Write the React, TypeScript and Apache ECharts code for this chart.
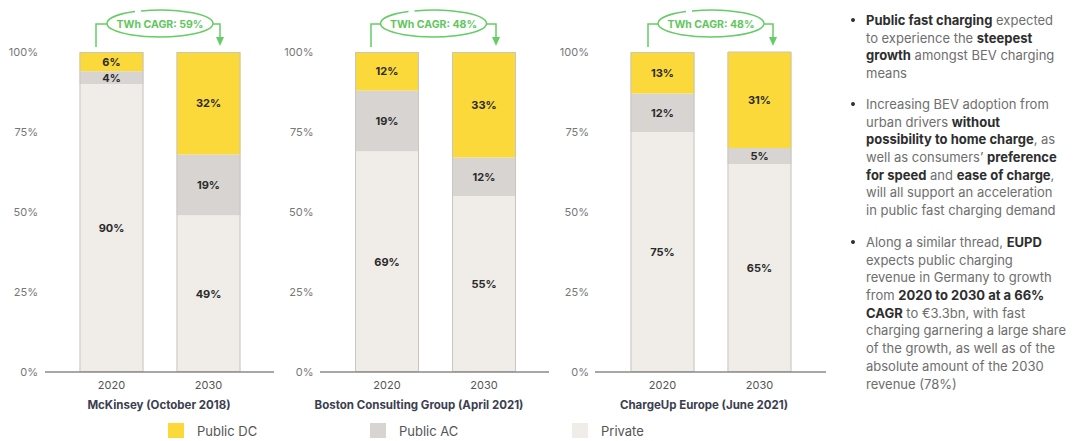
import React, { useEffect, useRef } from "react";
import * as echarts from "echarts";

// Share of BEV charging energy by charging type, per study
const sources = [
  "McKinsey (October 2018)",
  "Boston Consulting Group (April 2021)",
  "ChargeUp Europe (June 2021)",
];
const years = ["2020", "2030"];
const privateShare = [
  [90, 49],
  [69, 55],
  [75, 65],
];
const publicAC = [
  [4, 19],
  [19, 12],
  [12, 5],
];
const publicDC = [
  [6, 32],
  [12, 33],
  [13, 31],
];
const twhCagr = [59, 48, 48];
const yTicks = [0, 25, 50, 75, 100];

const seriesNames = ["Private", "Public AC", "Public DC"];
const seriesColors = ["#f0ece8", "#d8d4d1", "#fcd93a"];

const FONT = "Inter, 'Noto Sans', sans-serif";
const GREEN = "#66cc66";

// Panel layout
const panelGridLeft = [63, 338.5, 614];
const gridTop = 52;
const gridWidth = 194;
const gridHeight = 320;
const axisLineX = [
  [45, 274],
  [320, 549],
  [595, 826],
];
const titleCenter = [159, 419, 704];
const bracket = [
  { left: 96, mid: 160, right: 220 },
  { left: 371, mid: 433.5, right: 496 },
  { left: 648, mid: 711, right: 773 },
];

const notes = [
  {
    y: 20,
    lines: [
      "{b|Public fast charging} expected",
      "to experience the {b|steepest}",
      "{b|growth} amongst BEV charging",
      "means",
    ],
  },
  {
    y: 104,
    lines: [
      "Increasing BEV adoption from",
      "urban drivers {b|without}",
      "{b|possibility to home charge}, as",
      "well as consumers’ {b|preference}",
      "{b|for speed} and {b|ease of charge},",
      "will all support an acceleration",
      "in public fast charging demand",
    ],
  },
  {
    y: 242,
    lines: [
      "Along a similar thread, {b|EUPD}",
      "expects public charging",
      "revenue in Germany to growth",
      "from {b|2020 to 2030 at a 66%}",
      "{b|CAGR} to €3.3bn, with fast",
      "charging garnering a large share",
      "of the growth, as well as of the",
      "absolute amount of the 2030",
      "revenue (78%)",
    ],
  },
];
const LINE_H = 17.7;
const NOTE_SIZE = 13;

let ringRegistered = false;
function registerRing() {
  if (ringRegistered) return;
  // open ellipse, hand-drawn look with a small gap at the top
  const d = "M -19 -12.6 A 53 13.5 0 1 1 -25 -11.9";
  echarts.graphic.registerShape("cagrRing", echarts.graphic.extendPath(d as any, {}) as any);
  ringRegistered = true;
}

export default function App() {
  const ref = useRef<HTMLDivElement>(null);

  useEffect(() => {
    document.body.style.margin = "0";
    registerRing();
    const chart = echarts.init(ref.current!, undefined, { renderer: "svg" });

    const grids: any[] = [];
    const xAxes: any[] = [];
    const yAxes: any[] = [];
    const series: any[] = [];
    const titles: any[] = [];
    const graphics: any[] = [];

    sources.forEach((src, p) => {
      grids.push({
        left: panelGridLeft[p],
        top: gridTop,
        width: gridWidth,
        height: gridHeight,
      });
      xAxes.push({
        type: "category",
        gridIndex: p,
        data: years,
        axisLine: { show: false },
        axisTick: { show: false },
        axisLabel: { color: "#555", fontSize: 11, fontFamily: FONT, margin: 7 },
      });
      yAxes.push({
        type: "value",
        gridIndex: p,
        min: 0,
        max: 100,
        interval: 25,
        splitLine: { show: false },
        axisLine: { show: false },
        axisTick: { show: false },
        axisLabel: {
          color: "#777",
          fontSize: 11,
          fontFamily: FONT,
          margin: 25,
          formatter: (v: number) => (yTicks.includes(v) ? `${v}%` : ""),
        },
      });
      const stacks = [privateShare[p], publicAC[p], publicDC[p]];
      stacks.forEach((vals, k) => {
        series.push({
          type: "bar",
          name: seriesNames[k],
          xAxisIndex: p,
          yAxisIndex: p,
          stack: "share" + p,
          barWidth: 64,
          data: vals,
          itemStyle: { color: seriesColors[k] },
          label: {
            show: true,
            position: "inside",
            formatter: "{c}%",
            color: "#2a2a2a",
            fontSize: 11,
            fontWeight: "bold",
            fontFamily: FONT,
          },
        });
      });
      // thin outline around each full column
      series.push({
        type: "bar",
        name: "outline" + p,
        xAxisIndex: p,
        yAxisIndex: p,
        barWidth: 64,
        barGap: "-100%",
        silent: true,
        z: 5,
        data: years.map((_, i) => stacks.reduce((s, v) => s + v[i], 0)),
        itemStyle: { color: "transparent", borderColor: "#c9c5c1", borderWidth: 1 },
        label: { show: false },
      });

      titles.push({
        text: src,
        left: titleCenter[p],
        textAlign: "center",
        top: 399,
        padding: 0,
        textStyle: { fontSize: 11.5, fontWeight: "bold", color: "#3b3e50", fontFamily: FONT },
      });

      // baseline
      graphics.push({
        type: "line",
        shape: { x1: axisLineX[p][0], y1: 372, x2: axisLineX[p][1], y2: 372 },
        style: { stroke: "#8a8a8a", lineWidth: 1.5 },
        z: 10,
      });

      // CAGR bracket
      const b = bracket[p];
      graphics.push({
        type: "polyline",
        shape: { points: [[b.left, 47], [b.left, 24], [b.mid - 53, 24]] },
        style: { stroke: GREEN, lineWidth: 1.5, fill: null },
      });
      graphics.push({
        type: "polyline",
        shape: { points: [[b.mid + 53, 24], [b.right, 24], [b.right, 40]] },
        style: { stroke: GREEN, lineWidth: 1.5, fill: null },
      });
      graphics.push({
        type: "polygon",
        shape: { points: [[b.right - 4, 37], [b.right + 4, 37], [b.right, 46]] },
        style: { fill: GREEN },
      });
      graphics.push({
        type: "cagrRing",
        x: b.mid,
        y: 23.5,
        style: { stroke: GREEN, lineWidth: 1.5, fill: "none" },
      });
      graphics.push({
        type: "text",
        x: b.mid,
        y: 24,
        style: {
          text: `TWh CAGR: ${twhCagr[p]}%`,
          fill: "#5fc75b",
          font: `bold 10.5px ${FONT}`,
          align: "center",
          verticalAlign: "middle",
        },
      });
    });

    // commentary bullets on the right
    notes.forEach((n) => {
      graphics.push({
        type: "circle",
        shape: { cx: 853, cy: n.y, r: 2 },
        style: { fill: "#333" },
      });
      graphics.push({
        type: "text",
        x: 866,
        y: n.y - LINE_H / 2,
        style: {
          text: n.lines.join("\n"),
          fill: "#6e6e6e",
          fontSize: NOTE_SIZE,
          fontFamily: FONT,
          lineHeight: LINE_H,
          verticalAlign: "top",
          align: "left",
          rich: {
            b: {
              fontSize: NOTE_SIZE,
              fontFamily: FONT,
              fontWeight: "bold",
              fill: "#2e2e2e",
              color: "#2e2e2e",
              lineHeight: LINE_H,
            },
          },
        },
      });
    });

    const legendLeft = [168, 370, 572];
    const legends = ["Public DC", "Public AC", "Private"].map((name, i) => ({
      data: [name],
      left: legendLeft[i],
      top: 423,
      padding: 0,
      icon: "rect",
      itemWidth: 16,
      itemHeight: 15,
      selectedMode: false,
      textStyle: {
        fontSize: 13,
        color: "#555",
        fontFamily: FONT,
        padding: [0, 0, 0, 8],
      },
    }));

    chart.setOption({
      animation: false,
      backgroundColor: "#ffffff",
      title: titles,
      legend: legends,
      grid: grids,
      xAxis: xAxes,
      yAxis: yAxes,
      series,
      graphic: graphics,
    });

    return () => chart.dispose();
  }, []);

  return (
    <div
      ref={ref}
      style={{ position: "fixed", left: 0, top: 0, width: 1078, height: 441 }}
    />
  );
}
